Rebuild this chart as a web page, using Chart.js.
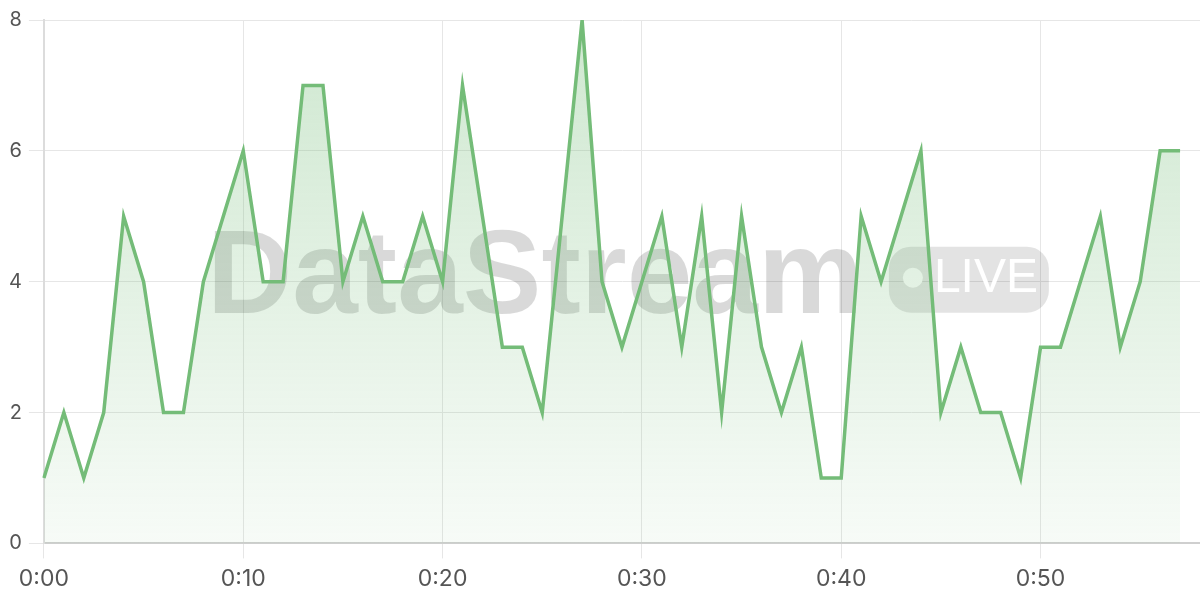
<!DOCTYPE html>
<html>
<head>
<meta charset="utf-8">
<script src="https://cdn.jsdelivr.net/npm/chart.js@4"></script>
<style>
  html, body { margin: 0; padding: 0; background: #fff; }
  #wrap { width: 1200px; height: 600px; position: relative; }
</style>
</head>
<body>
<div id="wrap"><canvas id="streamChart"></canvas></div>
<script>
// ── Datos ─────────────
const minutes = Array.from({ length: 59 }, (_, i) => i);
const labels = minutes.map(m => '0:' + String(m).padStart(2, '0'));
const viewers = [1, 2, 1, 2, 5, 4, 2, 2, 4, 5,
                 6, 4, 4, 7, 7, 4, 5, 4, 4, 5,
                 4, 7, 5, 3, 3, 2, 5, 8, 4, 3,
                 4, 5, 3, 5, 2, 5, 3, 2, 3, 1,
                 1, 5, 4, 5, 6, 2, 3, 2, 2, 1,
                 3, 3, 4, 5, 3, 4, 6, 6];
const yTicks = [0, 2, 4, 6, 8];
const brand = 'DataStream';
const badge = 'LIVE';

// ── Marca de agua ─────────────
const watermark = {
    id: 'watermark',
    beforeDatasetsDraw(chart) {
        const { ctx, chartArea: a } = chart;
        const cx = (a.left + a.right) / 2;
        const cy = (a.top + a.bottom) / 2;
        ctx.save();
        ctx.font = 'bold 118px "Liberation Sans", Arial, sans-serif';
        ctx.textBaseline = 'alphabetic';
        const w = ctx.measureText(brand).width;
        const pillW = 160, pillH = 66, gap = 26;
        const total = w + gap + pillW;
        const x0 = cx - total / 2 + 6;
        const base = cy + 31;
        ctx.fillStyle = 'rgba(0,0,0,0.15)';
        ctx.fillText(brand, x0, base);

        const px = x0 + w + gap, py = base - pillH;
        ctx.fillStyle = 'rgba(0,0,0,0.11)';
        ctx.beginPath();
        ctx.roundRect(px, py, pillW, pillH, 22);
        ctx.fill();
        ctx.fillStyle = '#fff';
        ctx.beginPath();
        ctx.arc(px + 24, py + pillH / 2 - 2, 10, 0, Math.PI * 2);
        ctx.fill();
        ctx.font = '48px "Liberation Sans", Arial, sans-serif';
        ctx.textBaseline = 'middle';
        ctx.fillText(badge, px + 45, py + pillH / 2 - 1);
        ctx.restore();
    }
};

(function () {
    const ctx = document.getElementById('streamChart');

    new Chart(ctx, {
        type: 'line',
        data: {
            labels: labels,
            datasets: [{
                data: viewers,
                borderColor: '#74bc78',
                borderWidth: 3.5,
                pointRadius: 0,
                tension: 0,
                fill: true,
                backgroundColor: function (context) {
                    const area = context.chart.chartArea;
                    if (!area) return 'rgba(116,188,120,0.15)';
                    const g = context.chart.ctx.createLinearGradient(0, area.top, 0, area.bottom);
                    g.addColorStop(0, 'rgba(116,188,120,0.35)');
                    g.addColorStop(1, 'rgba(116,188,120,0.06)');
                    return g;
                }
            }]
        },
        options: {
            responsive: true,
            maintainAspectRatio: false,
            animation: false,
            layout: { padding: { top: 20, right: 0, left: 2, bottom: 0 } },
            scales: {
                x: {
                    grid: { color: '#e6e6e6', tickLength: 15 },
                    border: { color: '#cfcfcf', width: 2 },
                    ticks: {
                        autoSkip: false,
                        maxRotation: 0,
                        color: '#555',
                        padding: 7,
                        font: { family: 'Inter', size: 23 },
                        callback: function (val, i) {
                            return i % 10 === 0 ? labels[i] : null;
                        }
                    }
                },
                y: {
                    min: 0,
                    max: 8,
                    afterBuildTicks: function (axis) {
                        axis.ticks = yTicks.map(v => ({ value: v }));
                    },
                    grid: { color: '#e6e6e6', tickLength: 15 },
                    border: { color: '#dcdcdc', width: 2 },
                    ticks: { color: '#555', padding: 7, font: { family: 'Inter', size: 20 } }
                }
            },
            plugins: {
                legend: { display: false },
                tooltip: { enabled: false }
            }
        },
        plugins: [watermark]
    });
})();
</script>
</body>
</html>
